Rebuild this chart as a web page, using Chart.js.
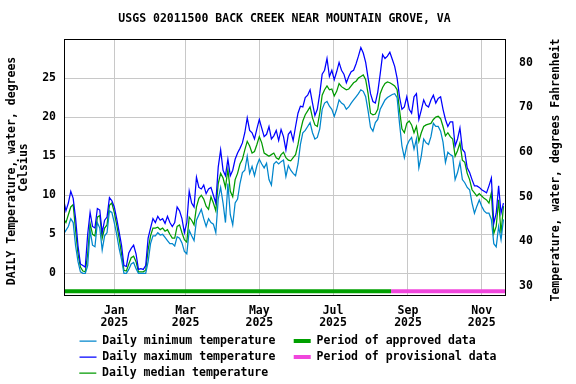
<!DOCTYPE html>
<html>
<head>
<meta charset="utf-8">
<script src="https://cdn.jsdelivr.net/npm/chart.js@4.4.1/dist/chart.umd.min.js"></script>
<style>
  html, body { margin: 0; padding: 0; background: #fff; }
</style>
</head>
<body>
<canvas id="chart" width="576" height="384"></canvas>
<script>
// days are counted from 2025-01-01, one value every 2 days from 2024-11-20
const firstDay = -42;
const stepDays = 2;

const maxTemp = [
  9.5, 8.0, 9.0, 10.5, 9.6, 7.0, 3.5, 1.2, 1.0, 0.8,
  5.0, 7.8, 6.0, 5.8, 8.3, 8.1, 5.2, 6.8, 7.2, 9.7,
  9.3, 8.5, 7.0, 5.3, 3.6, 1.0, 0.9, 2.6, 3.2, 3.6,
  2.5, 0.5, 0.6, 0.5, 1.0, 4.5, 5.8, 7.0, 6.5, 7.3,
  6.8, 7.0, 6.4, 7.3, 6.5, 6.0,
  6.5, 8.5, 8.0, 7.0, 5.2, 6.5, 10.5, 9.0, 8.5, 12.3,
  11.0, 10.8, 11.3, 10.2, 10.8, 11.0, 10.0, 9.0, 13.6, 15.8,
  13.2, 12.5, 14.6, 12.5, 13.2, 14.6, 15.4, 16.0, 16.7, 18.0,
  19.9, 18.3, 18.0, 17.2, 18.5, 19.7, 18.6, 17.5, 17.8, 18.8,
  17.2, 17.6, 18.3, 17.0, 18.4,
  17.5, 15.8, 17.8, 18.2, 17.0, 18.8, 20.5, 21.4, 21.3, 22.5,
  22.8, 23.5, 21.8, 20.2, 21.0, 23.0, 25.5, 26.0, 27.5, 25.2,
  26.0, 24.8, 25.8, 27.0, 26.0, 25.5, 24.4, 25.2, 25.8, 26.0,
  26.8, 27.8, 28.9, 28.2, 27.0, 25.0, 23.0, 22.0, 21.8, 23.2,
  25.5, 28.0, 27.5, 27.8, 28.3, 27.4,
  26.5, 25.0, 22.6, 21.0, 21.3, 22.6, 21.0, 20.5, 22.6, 23.0,
  19.7, 20.9, 22.2, 21.5, 21.3, 22.2, 22.8, 21.8, 22.4, 22.6,
  21.0, 19.7, 18.8, 19.4, 19.4, 16.3, 17.2, 18.6, 15.9, 15.5,
  13.5, 12.9, 12.0, 11.2, 11.2, 11.0, 10.7, 10.5, 10.3, 11.2,
  12.2, 6.4, 7.7, 11.2, 7.7, 9.0
];

const medTemp = [
  7.0, 6.5, 7.5, 8.5, 8.8, 5.5, 2.5, 0.8, 0.3, 0.2,
  2.5, 6.4, 5.0, 4.8, 7.2, 7.4, 4.5, 5.8, 6.2, 8.7,
  9.0, 7.8, 6.2, 4.5, 2.5, 0.4, 0.3, 1.2, 2.0, 2.2,
  1.5, 0.2, 0.2, 0.2, 0.4, 3.0, 4.8, 5.8, 5.8, 5.9,
  5.6, 5.8, 5.4, 5.6, 5.0, 4.5,
  4.5, 6.0, 6.2, 5.2, 4.3, 4.0, 7.2, 6.8, 6.2, 8.5,
  9.6, 10.0, 9.5, 8.6, 8.2, 9.8, 9.0, 8.0, 11.5, 12.8,
  12.2, 11.0, 13.3, 10.5, 9.8, 12.0, 12.8, 14.0, 14.6, 15.8,
  16.9, 16.3, 15.4, 15.6, 16.5, 17.5, 16.7, 15.4, 15.2, 15.0,
  15.2, 15.4, 14.8, 14.6, 15.2,
  15.5, 14.8, 14.5, 14.4, 14.8, 15.2, 16.5, 18.2, 19.5, 20.3,
  20.8, 21.3, 19.9, 19.0, 18.8, 20.5, 22.8, 23.5, 24.0, 23.5,
  23.6, 22.7, 23.3, 24.3, 23.9, 23.7, 23.5, 23.6, 24.0, 24.4,
  24.6, 25.0, 25.2, 25.4, 24.8, 23.0, 20.5, 20.3, 20.4, 21.0,
  23.0, 23.8, 24.3, 24.5, 24.4, 24.2,
  24.0, 23.5, 20.9, 18.5, 18.0, 19.2, 19.5, 19.0, 18.0, 18.8,
  16.9, 18.0, 18.8, 19.0, 19.1, 19.2, 19.7, 20.0, 20.1, 19.8,
  18.8, 17.6, 18.0, 17.5, 17.2, 15.0, 15.7, 16.7, 14.5, 14.2,
  12.8, 12.0, 10.7, 10.3, 9.9, 10.2, 9.9, 9.6, 9.4, 9.0,
  10.3, 5.1, 6.0, 9.4, 5.1, 8.6
];

const minTemp = [
  5.0, 5.5, 6.0, 7.0, 6.5, 3.5, 1.5, 0.2, 0.0, 0.0,
  1.0, 5.5, 3.6, 3.4, 6.5, 5.8, 3.0, 4.8, 5.2, 8.0,
  7.8, 6.5, 5.0, 3.2, 1.8, 0.0, 0.0, 0.5, 1.2, 1.4,
  0.6, 0.0, 0.0, 0.0, 0.0, 1.5, 3.8, 4.8, 4.8, 5.2,
  4.9, 5.0, 4.6, 4.2, 3.8, 3.8,
  3.5, 4.7, 4.5, 3.9, 2.8, 2.5, 5.5, 4.8, 4.2, 6.8,
  7.5, 8.2, 7.0, 6.0, 7.0, 6.5, 6.3, 5.2, 9.5, 11.0,
  9.0, 6.5, 11.5, 7.5, 6.2, 9.0, 9.5, 11.5, 12.9, 13.2,
  15.0, 12.8, 13.7, 12.5, 13.8, 14.6, 14.0, 13.5, 14.1, 12.0,
  11.3, 14.0, 14.3, 14.0, 14.3,
  14.5, 12.4, 13.8, 13.2, 12.8, 12.5, 14.0, 16.5, 18.0, 18.3,
  18.8, 19.3, 18.0, 17.2, 17.4, 18.5, 21.0, 21.8, 22.0, 21.4,
  21.0, 20.1, 21.0, 22.2, 21.8, 21.6, 21.0, 21.3, 21.8, 22.2,
  22.6, 23.0, 23.5, 23.3, 22.6, 20.8, 18.7, 18.2, 19.3, 19.7,
  21.0, 21.6, 22.2, 22.5, 22.7, 22.9,
  23.0, 22.5, 19.2, 16.3, 14.8, 16.3, 17.0, 17.4, 15.9, 17.2,
  13.5, 15.0, 17.2, 16.7, 16.5, 17.5, 19.2, 18.8, 18.8, 18.2,
  16.8, 14.2, 15.5, 15.2, 15.0, 12.0, 12.9, 14.2, 12.0, 11.6,
  11.0, 10.7, 9.0, 7.7, 8.6, 9.4, 8.6, 8.0, 7.7, 7.7,
  6.9, 3.8, 3.4, 6.0, 4.3, 6.9
];

// data status periods (day numbers) and the level the bars sit at
const approvedSpan = [-42, 229];
const provisionalSpan = [229, 325];
const periodLevel = -2.3;

const tickDays = [0, 59, 120, 181, 243, 304];
const tickMonths = ["Jan", "Mar", "May", "Jul", "Sep", "Nov"];
const tickYear = "2025";
const celsiusTicks = [0, 5, 10, 15, 20, 25];
const fahrenheitTicks = [30, 40, 50, 60, 70, 80];

const FONT = '"DejaVu Sans Mono", monospace';
const gridColor = "#c8c8c8";

function toPoints(values) {
  return values.map((v, i) => ({ x: firstDay + i * stepDays, y: v }));
}
function spanPoints(span) {
  return span.map((d) => ({ x: d, y: periodLevel }));
}

// legend order: two columns like the USGS plot
const legendOrder = [0, 3, 1, 4, 2];

// frame around the plot + right axis title (reads bottom to top)
const framePlugin = {
  id: "frame",
  afterDraw(chart) {
    const { ctx, chartArea: a } = chart;
    ctx.save();
    ctx.strokeStyle = "#000";
    ctx.lineWidth = 1;
    ctx.strokeRect(a.left + 0.5, a.top + 0.5, a.right - a.left - 1, a.bottom - a.top - 1);
    ctx.translate(556, 170);
    ctx.rotate(-Math.PI / 2);
    ctx.fillStyle = "#000";
    ctx.font = "bold 11.5px " + FONT;
    ctx.textAlign = "center";
    ctx.textBaseline = "middle";
    ctx.fillText("Temperature, water, degrees Fahrenheit", 0, 0);
    ctx.restore();
  },
};

const ctx = document.getElementById("chart").getContext("2d");
const myChart = new Chart(ctx, {
  type: "line",
  data: {
    datasets: [
      {
        label: "Daily minimum temperature".padEnd(27),
        data: toPoints(minTemp),
        borderColor: "#0086cc",
        borderWidth: 1.25,
      },
      {
        label: "Daily maximum temperature".padEnd(27),
        data: toPoints(maxTemp),
        borderColor: "#0000ff",
        borderWidth: 1.25,
      },
      {
        label: "Daily median temperature".padEnd(57),
        data: toPoints(medTemp),
        borderColor: "#009a00",
        borderWidth: 1.25,
      },
      {
        label: "Period of approved data".padEnd(26),
        data: spanPoints(approvedSpan),
        borderColor: "#00a000",
        borderWidth: 4,
      },
      {
        label: "Period of provisional data",
        data: spanPoints(provisionalSpan),
        borderColor: "#f046dc",
        borderWidth: 4,
      },
    ],
  },
  options: {
    responsive: false,
    animation: false,
    datasets: {
      line: { pointRadius: 0, tension: 0, fill: false, clip: 0 },
    },
    layout: { padding: { left: 0, right: 0, top: 0, bottom: -4.75 } },
    plugins: {
      title: {
        display: true,
        text: "USGS 02011500 BACK CREEK NEAR MOUNTAIN GROVE, VA ",
        color: "#000",
        font: { family: FONT, size: 11.5, weight: "bold", lineHeight: 1.2 },
        padding: { top: 12.6, bottom: 12.6 },
      },
      legend: {
        position: "bottom",
        labels: {
          usePointStyle: true,
          pointStyle: "line",
          pointStyleWidth: 17,
          padding: 4.5,
          color: "#000",
          font: { family: FONT, size: 11.5, weight: "bold" },
          sort: (a, b) => legendOrder.indexOf(a.datasetIndex) - legendOrder.indexOf(b.datasetIndex),
        },
      },
      tooltip: { enabled: false },
    },
    scales: {
      x: {
        type: "linear",
        min: -41.6,
        max: 324.1,
        afterBuildTicks: (s) => { s.ticks = tickDays.map((v) => ({ value: v })); },
        afterFit: (s) => { s.height = 34.75; },
        grid: { color: gridColor, drawTicks: false },
        border: { display: false },
        ticks: {
          autoSkip: false,
          maxRotation: 0,
          padding: 8.4,
          color: "#000",
          font: { family: FONT, size: 11.5, weight: "bold", lineHeight: 1.1 },
          callback: (v, i) => [tickMonths[i], tickYear],
        },
      },
      y: {
        position: "left",
        min: -2.9,
        max: 30,
        afterBuildTicks: (s) => { s.ticks = celsiusTicks.map((v) => ({ value: v })); },
        afterFit: (s) => { s.width = 64; },
        grid: { color: gridColor, drawTicks: false },
        border: { display: false },
        ticks: {
          padding: 8,
          color: "#000",
          font: { family: FONT, size: 11.5, weight: "bold" },
        },
        title: {
          display: true,
          text: ["DAILY Temperature, water, degrees ", "Celsius"],
          color: "#000",
          padding: { top: 5.75, bottom: 0 },
          font: { family: FONT, size: 11.5, weight: "bold", lineHeight: 1.087 },
        },
      },
      y2: {
        position: "right",
        min: 27.8,
        max: 85.3,
        afterBuildTicks: (s) => { s.ticks = fahrenheitTicks.map((v) => ({ value: v })); },
        afterFit: (s) => { s.width = 70; },
        grid: { drawOnChartArea: false, drawTicks: false },
        border: { display: false },
        ticks: {
          padding: 13,
          color: "#000",
          font: { family: FONT, size: 11.5, weight: "bold" },
        },
      },
    },
  },
  plugins: [framePlugin],
});
</script>
</body>
</html>
